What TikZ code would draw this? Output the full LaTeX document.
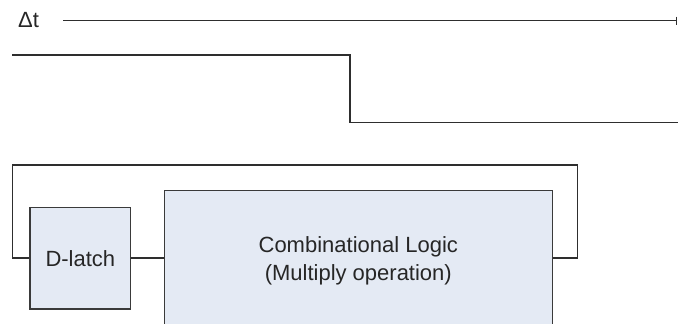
\documentclass[tikz,border=0pt]{standalone}
\usepackage{fontspec}
\setmainfont{Liberation Sans}
\usetikzlibrary{arrows.meta}
\definecolor{lineclr}{HTML}{2E2E2E}
\definecolor{boxfill}{HTML}{E4EAF4}
\definecolor{boxdraw}{HTML}{3A3A3A}
\definecolor{txtclr}{HTML}{262626}
\begin{document}
\begin{tikzpicture}[x=1pt,y=-1pt,
  wire/.style={draw=lineclr,line width=1.4pt},
  blockbox/.style={draw=boxdraw,fill=boxfill,line width=1.4pt,inner sep=0pt,
    font=\fontsize{22}{28}\selectfont,text=txtclr,align=center}]
\useasboundingbox (0,0) rectangle (678,324);
\clip (0,0) rectangle (678,324);
% time scale
\node[anchor=base west,inner sep=0pt,font=\fontsize{22}{26}\selectfont,text=txtclr] (dt) at (18,27.3) {Δt};
\coordinate (dtA) at (63,20.7);
\coordinate (dtB) at (677,20.7);
\draw[wire,-{Bar[width=8pt,line width=1.4pt]}] (dtA) -- (dtB);
% clock signal
\coordinate (s0) at (12.3,55);
\coordinate (s1) at (350,55);
\coordinate (s2) at (350,122.7);
\coordinate (s3) at (680,122.7);
\draw[wire] (s0) -- (s1) -- (s2) -- (s3);
% blocks
\node[blockbox,minimum width=100.7pt,minimum height=101.7pt] (dl) at (80.35,258.15) {D-latch};
\node[blockbox,minimum width=388pt,minimum height=141pt] (cl) at (358.3,261.2) {Combinational Logic\\(Multiply operation)};
% connections
\coordinate (rR) at (577.7,258.15);
\coordinate (rT) at (577.7,165);
\coordinate (lT) at (12.7,165);
\coordinate (lB) at (12.7,258.15);
\draw[wire] (dl.east) -- (dl.east -| cl.west);
\draw[wire] (cl.east |- rR) -- (rR) -- (rT) -- (lT) -- (lB) -- (dl.west);
\end{tikzpicture}
\end{document}
